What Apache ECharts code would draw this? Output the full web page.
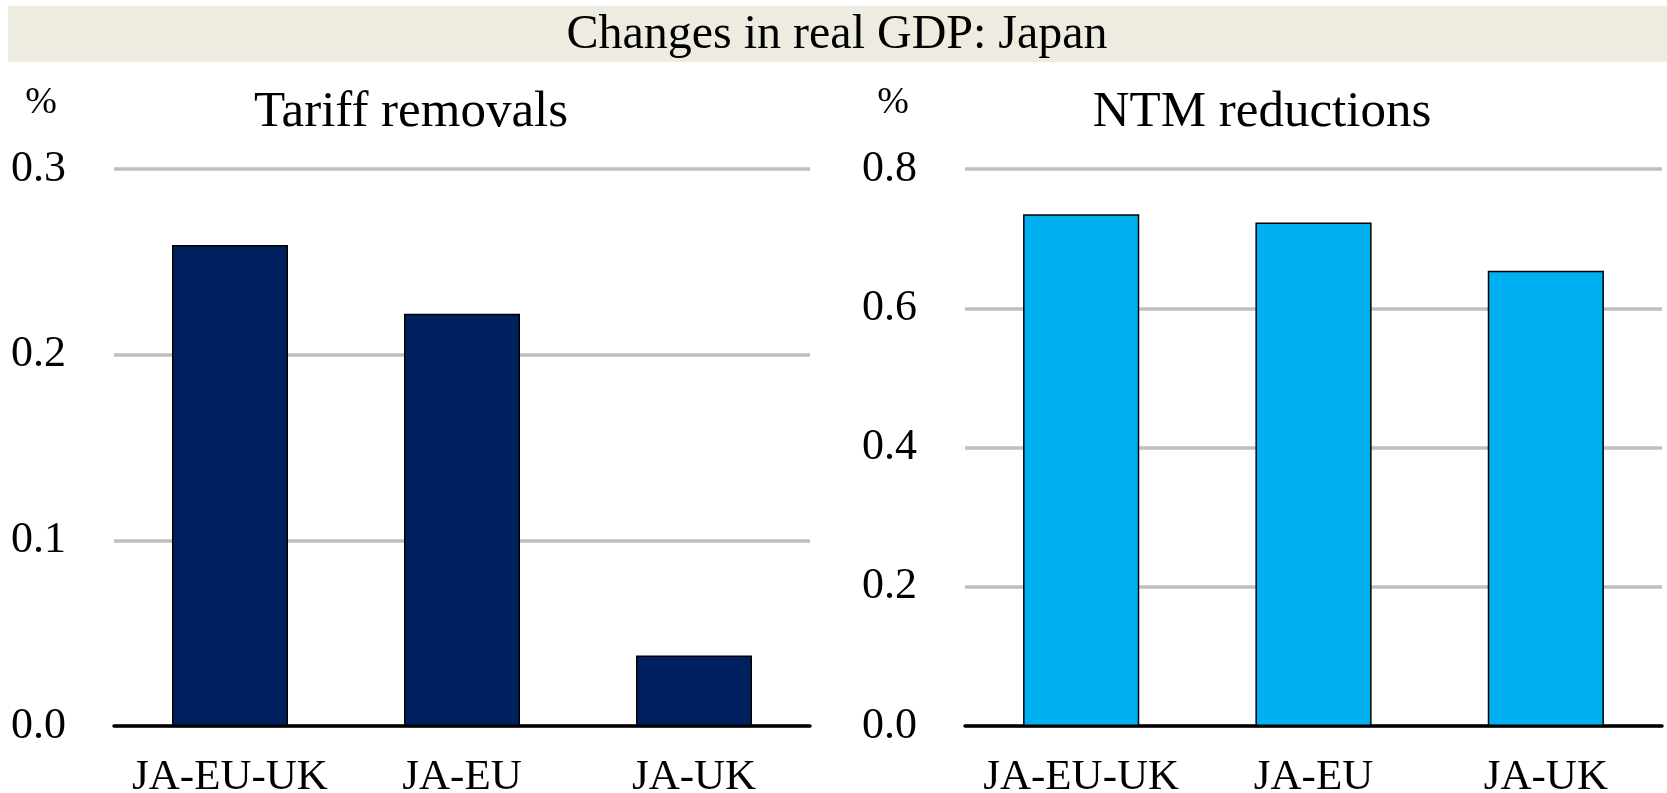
<!DOCTYPE html>
<html>
<head>
<meta charset="utf-8">
<script src="https://cdn.jsdelivr.net/npm/echarts@6/dist/echarts.min.js"></script>
<style>
  html, body { margin: 0; padding: 0; background: #ffffff; }
  #chart { width: 1667px; height: 793px; }
</style>
</head>
<body>
<div id="chart"></div>
<script>
// Changes in real GDP for Japan, by trade agreement scenario (%)
const categories = ['JA-EU-UK', 'JA-EU', 'JA-UK'];
const tariffRemovals = [0.259, 0.222, 0.038];
const ntmReductions = [0.735, 0.723, 0.654];

const mainTitle = 'Changes in real GDP: Japan';
const leftTitle = 'Tariff removals';
const rightTitle = 'NTM reductions';
const unitLabel = '%';

const FONT = "'Liberation Serif', 'Times New Roman', serif";
const TEXT = '#000000';

const chart = echarts.init(document.getElementById('chart'), null, { renderer: 'canvas' });

function yAxis(gridIndex, max, interval) {
  return {
    type: 'value',
    gridIndex: gridIndex,
    min: 0,
    max: max,
    interval: interval,
    axisLine: { show: false },
    axisTick: { show: false },
    axisLabel: {
      color: TEXT,
      fontFamily: FONT,
      fontSize: 44,
      margin: 48,
      formatter: v => v.toFixed(1)
    },
    splitLine: { show: true, lineStyle: { color: '#BFBFBF', width: 3.5 } }
  };
}

function xAxis(gridIndex) {
  return {
    type: 'category',
    gridIndex: gridIndex,
    data: categories,
    axisLine: { show: true, lineStyle: { color: '#000000', width: 3.5 } },
    axisTick: { show: false },
    axisLabel: { color: TEXT, fontFamily: FONT, fontSize: 43, margin: 30, interval: 0 }
  };
}

function barSeries(index, values, color) {
  return {
    type: 'bar',
    xAxisIndex: index,
    yAxisIndex: index,
    data: values,
    barWidth: '50%',
    itemStyle: { color: color, borderColor: '#000000', borderWidth: 1.5 },
    z: 3
  };
}

const option = {
  backgroundColor: '#ffffff',
  animation: false,
  grid: [
    { left: 114, right: 1667 - 810, top: 169, bottom: 67, containLabel: false, outerBoundsMode: 'none' },
    { left: 965, right: 5, top: 169, bottom: 67, containLabel: false, outerBoundsMode: 'none' }
  ],
  xAxis: [xAxis(0), xAxis(1)],
  yAxis: [yAxis(0, 0.3, 0.1), yAxis(1, 0.8, 0.2)],
  series: [
    barSeries(0, tariffRemovals, '#002060'),
    barSeries(1, ntmReductions, '#00B0F0')
  ],
  graphic: [
    {
      type: 'rect',
      shape: { x: 8, y: 6, width: 1659, height: 56 },
      style: { fill: '#EEECE1' },
      z: 0
    },
    {
      type: 'text',
      x: 837, y: 35,
      style: { text: mainTitle, fill: TEXT, font: '48px ' + FONT, textAlign: 'center', textVerticalAlign: 'middle' }
    },
    {
      type: 'text',
      x: 411, y: 113,
      style: { text: leftTitle, fill: TEXT, font: '51px ' + FONT, textAlign: 'center', textVerticalAlign: 'middle' }
    },
    {
      type: 'text',
      x: 1262, y: 113,
      style: { text: rightTitle, fill: TEXT, font: '51px ' + FONT, textAlign: 'center', textVerticalAlign: 'middle' }
    },
    {
      type: 'text',
      x: 41, y: 103,
      style: { text: unitLabel, fill: TEXT, font: '38px ' + FONT, textAlign: 'center', textVerticalAlign: 'middle' }
    },
    {
      type: 'text',
      x: 893, y: 103,
      style: { text: unitLabel, fill: TEXT, font: '38px ' + FONT, textAlign: 'center', textVerticalAlign: 'middle' }
    }
  ]
};

chart.setOption(option);
</script>
</body>
</html>
